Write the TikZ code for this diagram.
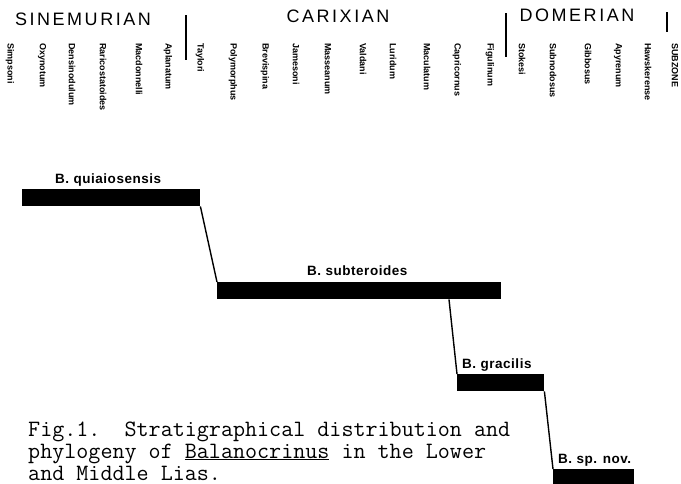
\documentclass[tikz,border=0pt]{standalone}
\usepackage{fontspec}
\usepackage{tikz}
\setmainfont{Liberation Sans}
\newfontfamily\stencil[LetterSpace=14]{Liberation Sans}
\newfontfamily\stenciltaxon[LetterSpace=4]{Liberation Sans}
\usetikzlibrary{positioning,calc}

\tikzset{
    stagelabel/.style={font=\stencil\fontsize{18}{18}\selectfont, inner sep=0pt},
    subzone/.style={font=\bfseries\fontsize{9}{9}\selectfont, rotate=-90, anchor=west, inner sep=0pt},
    rangebar/.style={fill=black, draw=none, inner sep=0pt, minimum height=17pt, anchor=north west},
    taxon/.style={font=\stenciltaxon\bfseries\fontsize{13.5}{13.5}\selectfont, inner sep=0pt, anchor=base west},
    lineage/.style={line width=1.4pt},
    divider/.style={line width=1.3pt},
    captionline/.style={font=\ttfamily\fontsize{23.4}{22}\selectfont, inner sep=0pt, anchor=base west}
}

\begin{document}
\begin{tikzpicture}[x=1pt, y=-1pt]
    \useasboundingbox (0,0) rectangle (681,483);
    % stages
    \node[stagelabel] (sinem) at (83,19) {SINEMURIAN};
    \node[stagelabel] (carix) at (338,16) {CARIXIAN};
    \node[stagelabel] (domer) at (577,15) {DOMERIAN};
    \draw[divider] (186,15) -- (186,60);
    \draw[divider] (506,13) -- (506,57);
    \draw[divider] (667,12) -- (667,32);
    % subzones
    \foreach \zx/\zname in {10/Simpsoni, 42/Oxynotum, 72/Densinodulum, 103/Raricostatoides,
        139/Macdonnelli, 168/Aplanatum, 200/Taylori, 233/Polymorphus, 265/Brevispina,
        296/Jamesoni, 328/Masseanum, 363/Valdani, 393/Luridum, 427/Maculatum,
        457/Capricornus, 490/Figulinum, 522/Stokesi, 553/Subnodosus, 588/Gibbosus,
        618/Apyrenum, 648/Hawskerense, 675/SUBZONE}
        \node[subzone] (sz-\zname) at (\zx,43) {\zname};
    % ranges
    \node[rangebar, minimum width=178pt] (quia) at (22,189) {};
    \node[rangebar, minimum width=284pt] (subt) at (217,282) {};
    \node[rangebar, minimum width=87pt] (grac) at (457,374) {};
    \node[rangebar, minimum width=81pt] (spnov) at (553,469) {};
    \node[taxon] (quia-l) at (55,183) {B. quiaiosensis};
    \node[taxon] (subt-l) at (307,275) {B. subteroides};
    \node[taxon] (grac-l) at (462,368) {B. gracilis};
    \node[taxon] (spnov-l) at (558,463) {B. sp. nov.};
    % phylogeny
    \draw[lineage] (quia.south east) -- (subt.north west);
    \draw[lineage] ([xshift=-8pt]grac.north west |- subt.south) -- (grac.north west);
    \draw[lineage] (grac.south east) -- (spnov.north west);
    % caption
    \node[captionline] (cap1) at (28,436) {Fig.1.\ \ Stratigraphical distribution and};
    \node[captionline] (cap2) at (28,458) {phylogeny of \underline{Balanocrinus} in the Lower};
    \node[captionline] (cap3) at (28,480) {and Middle Lias.};
\end{tikzpicture}
\end{document}
